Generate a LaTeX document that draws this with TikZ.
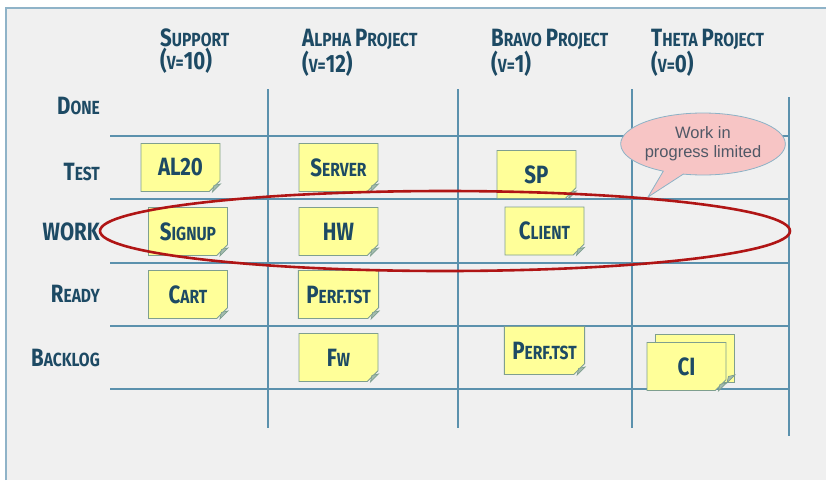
\documentclass[tikz,border=0pt]{standalone}
\usepackage{fontspec}
\usetikzlibrary{shapes.misc,shapes.geometric,shapes.callouts}
\newfontfamily\handfont{Fira Sans}[FakeStretch=0.82]
\newfontfamily\callfont{Liberation Sans}
\definecolor{fondo}{HTML}{F0F0F0}
\definecolor{marco}{HTML}{8FB3C8}
\definecolor{rejilla}{HTML}{5B91AD}
\definecolor{tinta}{HTML}{1D4A64}
\definecolor{amarillo}{HTML}{FFFF99}
\definecolor{borde}{HTML}{7F9F8F}
\definecolor{doblez}{HTML}{A3BBAF}
\definecolor{rosa}{HTML}{F7C5C5}
\definecolor{rojo}{HTML}{B01515}
\definecolor{gris}{HTML}{505866}
\newcommand{\gr}[1]{{\fontsize{25}{25}\selectfont #1}}
\newcommand{\pq}[1]{{\fontsize{19}{19}\selectfont\MakeUppercase{#1}}}
\begin{document}
\begin{tikzpicture}[
  x=1pt, y=-1pt,
  linea/.style={draw=rejilla, line width=1.4pt},
  titulo/.style={anchor=north west, align=left, text=tinta, inner sep=0pt,
    font=\handfont\bfseries\fontsize{20}{21}\selectfont},
  fila/.style={anchor=base east, text=tinta, inner sep=0pt, font=\handfont\bfseries},
  nota/.style={chamfered rectangle, chamfered rectangle corners=south east,
    chamfered rectangle xsep=8pt, fill=amarillo, draw=borde, line width=0.9pt,
    minimum width=79pt, minimum height=48pt, inner sep=0pt, text=tinta,
    font=\handfont\bfseries},
  pliegue/.style={fill=doblez, draw=borde, line width=0.7pt},
  globo/.style={ellipse callout, fill=rosa, draw=rejilla!70, line width=0.8pt,
    minimum width=158pt, minimum height=62pt, inner sep=0pt, align=center,
    text=gris, font=\callfont\fontsize{16.5}{19}\selectfont}
]
  \useasboundingbox (0,0) rectangle (826,480);

  % Fondo y marco
  \fill[fondo] (6,8) rectangle (826,480);
  \draw[marco, line width=1.6pt] (6,480) -- (6,8) -- (826,8);

  % Rejilla del tablero
  \foreach \x in {268,458,632} \draw[linea] (\x,89) -- (\x,428);
  \draw[linea] (789,97) -- (789,436);
  \foreach \y in {136,199,263,326,389} \draw[linea] (110,\y) -- (789,\y);

  % Cabeceras de columnas
  \node[titulo] (sup) at (160,29) {\gr{S}\pq{upport}\\\gr{(}\pq{v=}\gr{10)}};
  \node[titulo] (alpha) at (302,29) {\gr{A}\pq{lpha} \gr{P}\pq{roject}\\\gr{(}\pq{v=}\gr{12)}};
  \node[titulo] (bravo) at (491,29) {\gr{B}\pq{ravo} \gr{P}\pq{roject}\\\gr{(}\pq{v=}\gr{1)}};
  \node[titulo] (theta) at (651,29) {\gr{T}\pq{heta} \gr{P}\pq{roject}\\\gr{(}\pq{v=}\gr{0)}};

  % Filas
  \node[fila] (done) at (100,114) {\gr{D}\pq{one}};
  \node[fila] (test) at (100,180) {\gr{T}\pq{est}};
  \node[fila] (work) at (100,240) {\gr{WORK}};
  \node[fila] (ready) at (100,302) {\gr{R}\pq{eady}};
  \node[fila] (backlog) at (100,366) {\gr{B}\pq{acklog}};

  % Notas
  \node[nota] (al20) at (180.5,167.5) {\gr{AL20}};
  \node[nota] (server) at (338.5,167.5) {\gr{S}\pq{erver}};
  \node[nota] (sp) at (536.5,174.5) {\gr{SP}};
  \node[nota] (signup) at (188,231.5) {\gr{S}\pq{ignup}};
  \node[nota] (hw) at (338.5,231.5) {\gr{HW}};
  \node[nota] (client) at (544.5,231) {\gr{C}\pq{lient}};
  \node[nota] (cart) at (188,294.5) {\gr{C}\pq{art}};
  \node[nota] (perfa) at (338.5,294.5) {\gr{P}\pq{erf.tst}};
  \node[nota] (fw) at (338.5,357.5) {\gr{F}\pq{w}};
  \node[nota] (perfb) at (544.5,350.5) {\gr{P}\pq{erf.tst}};
  \node[nota] (ciback) at (695,358.5) {};
  \node[nota] (ci) at (686.5,366.5) {\gr{CI}};

  % Esquinas dobladas
  \foreach \n in {al20,server,sp,signup,hw,client,cart,perfa,fw,perfb,ciback,ci} {
    \coordinate (c) at (\n.east |- \n.south);
    \filldraw[pliegue] ([yshift=8pt]c) -- ([xshift=-8pt]c) -- ([shift={(-6.5pt,6.5pt)}]c) -- cycle;
  }

  % Globo
  \coordinate (punta) at (648,197);
  \node[globo, callout absolute pointer={(punta)}] (wip) at (703,144) {Work in\\progress limited};

  % Elipse roja
  \node[ellipse, draw=rojo, line width=2.6pt, minimum width=690pt, minimum height=80pt] (limite) at (445,231) {};

\end{tikzpicture}
\end{document}
